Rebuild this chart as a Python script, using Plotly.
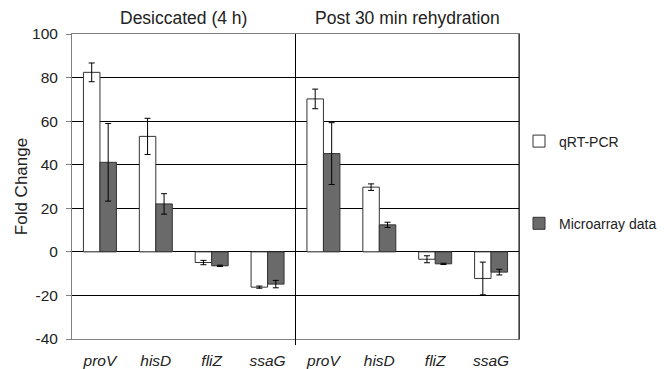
import plotly.graph_objects as go

genes = ["proV", "hisD", "fliZ", "ssaG", "proV", "hisD", "fliZ", "ssaG"]
x_pos = [0, 1, 2, 3, 4, 5, 6, 7]
qrt_values = [82.4, 53.0, -4.9, -16.2, 70.2, 29.7, -3.4, -12.2]
qrt_errors = [4.3, 8.3, 1.0, 0.5, 4.5, 1.5, 1.6, 7.5]
micro_values = [41.1, 22.0, -6.4, -14.8, 45.1, 12.4, -5.5, -9.3]
micro_errors = [17.8, 4.7, 0.3, 1.7, 14.2, 1.2, 0.3, 1.3]
group_titles = ["Desiccated (4 h)", "Post 30 min rehydration"]
y_ticks = [-40, -20, 0, 20, 40, 60, 80, 100]
y_tick_labels = ["-40", "-20", "0", "20", "40", "60", "80", "100"]

FONT = "Liberation Sans, Arial, sans-serif"
TXT = "#222222"

# the page body adds an 8px offset, so the figure is sized for the remaining area
W, H = 658, 361

fig = go.Figure()
fig.add_trace(go.Bar(
    x=x_pos, y=qrt_values, name="qRT-PCR",
    marker=dict(color="white", line=dict(color="#333333", width=1)),
    error_y=dict(type="data", array=qrt_errors, color="black", thickness=1, width=3),
    legendgroup="a",
))
fig.add_trace(go.Bar(
    x=x_pos, y=micro_values, name="Microarray data",
    marker=dict(color="#6a6a6a", line=dict(color="#333333", width=1)),
    error_y=dict(type="data", array=micro_errors, color="black", thickness=1, width=3),
    legendgroup="b",
))

fig.update_layout(
    width=W, height=H,
    margin=dict(l=64, r=134, t=26, b=30),
    paper_bgcolor="white", plot_bgcolor="white",
    barmode="group", bargap=0.41, bargroupgap=0,
    font=dict(family=FONT, size=15, color=TXT),
    showlegend=True,
    legend=dict(xref="container", yref="container", x=511 / W, xanchor="left",
                y=0.6745, yanchor="top",
                font=dict(family=FONT, size=14, color=TXT),
                tracegroupgap=61, bgcolor="rgba(0,0,0,0)"),
    xaxis=dict(
        range=[-0.5, 7.5], tickmode="array", tickvals=x_pos, ticktext=genes,
        tickfont=dict(family=FONT, size=15.5, color=TXT, style="italic"),
        showgrid=False, zeroline=False, automargin=False,
        showline=True, linecolor="#808080", linewidth=1, mirror=True,
        ticks="outside", ticklen=7, tickcolor="rgba(0,0,0,0)",
    ),
    yaxis=dict(
        range=[-40, 100], tickmode="array", tickvals=y_ticks, ticktext=y_tick_labels,
        tickfont=dict(family=FONT, size=15.5, color=TXT),
        showgrid=True, gridcolor="black", gridwidth=1, automargin=False,
        zeroline=True, zerolinecolor="black", zerolinewidth=1,
        showline=True, linecolor="#808080", linewidth=1, mirror=True,
        ticks="outside", ticklen=5, tickcolor="#808080", ticklabelstandoff=5,
        title=dict(text="Fold Change", font=dict(family=FONT, size=17, color=TXT), standoff=0),
    ),
)

fig.add_shape(type="line", xref="x", yref="paper", x0=3.5, x1=3.5, y0=-0.02, y1=1,
              line=dict(color="black", width=1))
fig.add_shape(type="line", xref="paper", yref="paper", x0=1, x1=1, y0=0, y1=1,
              line=dict(color="black", width=1))

for i, t in enumerate(group_titles):
    fig.add_annotation(text=t, xref="paper", yref="paper", x=0.25 + 0.5 * i, y=1,
                       xanchor="center", yanchor="bottom", yshift=4, showarrow=False,
                       font=dict(family=FONT, size=17.5, color=TXT))

fig.write_html("out.html")
